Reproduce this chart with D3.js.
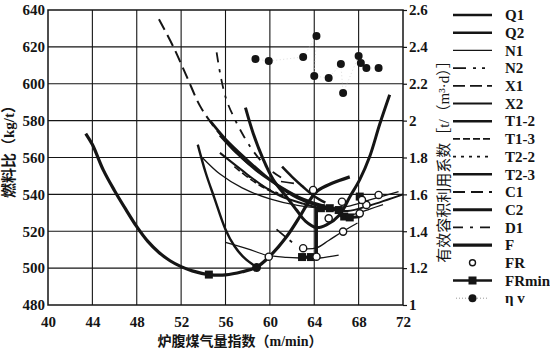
<!DOCTYPE html>
<html><head><meta charset="utf-8">
<script src="https://cdn.jsdelivr.net/npm/d3@7"></script>
<style>body{margin:0;background:#fff}</style>
</head><body><svg id="c" width="550" height="349"></svg>
<script>
// ---------- data ----------
const xTicks = [40,44,48,52,56,60,64,68,72];
const yLeftTicks = [480,500,520,540,560,580,600,620,640];
const yRightTicks = [1,1.2,1.4,1.6,1.8,2,2.2,2.4,2.6];
const legendNames = ["Q1","Q2","N1","N2","X1","X2","T1-2","T1-3","T2-2","T2-3","C1","C2","D1","F","FR","FRmin","η v"];

// curves: [炉腹煤气量指数, 燃料比]
const curveF   = [[43.4,573],[44,567],[45,553],[46,542],[47,532],[48,522.5],[49,514.5],[50,508.5],[51,504],[52,500.8],[53,498.5],[54.5,496.5],[56,496.3],[57.5,498],[58.8,500.5],[60,506.5],[61.5,517],[62.7,528],[63.5,536],[64.3,542],[65.6,546],[67.2,549.5]];
const curveQ2  = [[53.5,567],[54.2,552],[55,538],[56,521],[56.8,512],[57.7,505.5],[58.8,500.5]];
const curveC2  = [[57.8,587],[58.5,573],[59.4,559],[60.3,548],[61.5,538.6],[62.4,531.5],[63.2,525.5],[64.2,522],[65.1,523.5],[66.3,529],[67.2,538.6],[68.1,548],[69,560.5],[69.9,578],[70.8,594]];
const curveC1  = [[50,635],[51.3,620],[52.5,604],[53.7,588],[54.8,578],[55.8,570.5],[57,562.5],[58.5,554.5],[60,548]];
const curveD1  = [[55.2,617],[55.6,603],[56.1,591],[56.9,580],[57.7,571],[58.5,563.5],[59.3,557.5],[60.3,552],[61.3,548]];
const curveQ1  = [[54.6,580],[56,570],[57.9,559],[59.5,550.5],[61,543.5],[62.5,538],[64,534.5],[66,532]];
const curveT23 = [[55.5,572],[57,562.5],[59,552],[61,544],[63,537.5],[65,533.5]];
const curveN1  = [[53.9,560],[55.5,551],[57.5,543.5],[60,537.5],[62.5,534],[65,532.5],[67,533.5],[69,537],[71.6,541.5]];
const curveX2  = [[55.5,562.5],[57.5,553],[59.4,544.5],[61,539],[63,535],[65,532],[67,531],[69,534],[72,540]];
const curveT12 = [[61.1,555],[62,549.5],[63,544],[64,539],[65,535.5]];
const curveT13 = [[56.8,555],[58.3,548],[59.8,542.5],[61.5,538.5]];
const curveT22 = [[58,550],[59.5,544],[61,540]];
const curveX1  = [[60.6,521],[62,514]];
const curveN2  = [[61,547],[62.5,545.5],[63.5,543]];
const curveLow = [[56,514],[58,510.5],[59.7,507],[61.5,505.8],[62.7,505.5],[64.5,505.5],[66.2,507]];
const curveMid = [[63,510.5],[64.2,511],[65.3,515],[66.6,520],[67.9,524.5]];
const curveRt  = [[66.5,527.5],[67.8,529.5],[69,532],[70.2,534.5]];

const frPoints = [[59.9,506.2],[63,510.8],[64.2,506.2],[63.9,542.4],[65.3,527],[66.5,536],[66.6,519.8],[68.1,529.7],[68.7,534.3],[68.3,537],[69.8,539.7]];
const frMinSquares = [[54.5,496.5],[62.9,506],[63.7,506],[64.6,532.5],[65.4,532.5],[66.2,531.5],[66.7,528],[67.2,527.5],[68.1,538.8]];
const frMinPath = [[62.7,506],[64.2,506],[64.2,532.5],[66,532],[66.5,528],[67.2,527.5],[68.1,527.8]];
const minDots = [[58.8,500.3]];
// ηv : [x, 有效容积利用系数]
const etaV = [[58.7,2.334],[59.9,2.323],[63.0,2.345],[64.2,2.459],[64.0,2.242],[65.3,2.231],[66.4,2.307],[66.6,2.150],[68.0,2.350],[68.2,2.312],[68.7,2.285],[69.8,2.285]];

const series = [
  {name:"F",pts:curveF},{name:"Q2",pts:curveQ2},{name:"C2",pts:curveC2},{name:"C1",pts:curveC1},
  {name:"D1",pts:curveD1},{name:"Q1",pts:curveQ1},{name:"T2-3",pts:curveT23},{name:"N1",pts:curveN1},
  {name:"X2",pts:curveX2},{name:"T1-2",pts:curveT12},{name:"T1-3",pts:curveT13},{name:"T2-2",pts:curveT22},
  {name:"X1",pts:curveX1},{name:"N2",pts:curveN2},{name:"N1",pts:curveLow},{name:"N1",pts:curveMid},{name:"N1",pts:curveRt}
];

// ---------- styles ----------
const INK = "#151515";
const styleOf = {
  "Q1":{w:2.6,dash:null},"Q2":{w:2.4,dash:null},"N1":{w:1.3,dash:null},"N2":{w:1.6,dash:"13,7,3,6,3,7"},
  "X1":{w:1.8,dash:"12,5"},"X2":{w:2,dash:null},"T1-2":{w:2.6,dash:null},"T1-3":{w:1.6,dash:"7,3"},
  "T2-2":{w:1.6,dash:"3,5"},"T2-3":{w:2.6,dash:null},"C1":{w:2,dash:"12,6"},"C2":{w:3,dash:null},
  "D1":{w:1.8,dash:"10,7,3,7"},"F":{w:3.2,dash:null}
};

const svg = d3.select("#c");
const L = 48, R = 403, T = 10, B = 305;
const x = d3.scaleLinear().domain([40,72]).range([L,R]);
const yL = d3.scaleLinear().domain([480,640]).range([B,T]);
const yR = d3.scaleLinear().domain([1,2.6]).range([B,T]);
const serif = "'Liberation Serif','Times New Roman',serif";
const cjk = "'Liberation Serif','Noto Sans CJK SC',sans-serif";

// grid
svg.append("g").selectAll("line").data(xTicks.slice(1,-1)).join("line")
  .attr("x1",d=>x(d)).attr("x2",d=>x(d)).attr("y1",T).attr("y2",B)
  .attr("stroke",INK).attr("stroke-width",1.1);
svg.append("g").selectAll("line").data(yLeftTicks.slice(1,-1)).join("line")
  .attr("x1",L).attr("x2",R).attr("y1",d=>yL(d)).attr("y2",d=>yL(d))
  .attr("stroke",INK).attr("stroke-width",1.1);
svg.append("rect").attr("x",L).attr("y",T).attr("width",R-L).attr("height",B-T)
  .attr("fill","none").attr("stroke",INK).attr("stroke-width",1.5);

// axes
const ax = svg.append("g").attr("transform",`translate(${L},0)`)
  .call(d3.axisLeft(yL).tickValues(yLeftTicks).tickSize(0).tickPadding(3));
const bx = svg.append("g").attr("transform",`translate(0,${B})`)
  .call(d3.axisBottom(x).tickValues(xTicks).tickSize(0).tickPadding(11));
const rx = svg.append("g").attr("transform",`translate(${R},0)`)
  .call(d3.axisRight(yR).tickValues(yRightTicks).tickSize(4).tickPadding(2).tickFormat(d3.format("~g")));
[ax,bx,rx].forEach(g=>{
  g.select(".domain").remove();
  g.selectAll("text").attr("font-family",serif).attr("font-size",15).attr("fill",INK).attr("font-weight","bold");
  g.selectAll("line").attr("stroke",INK).attr("stroke-width",1.2);
});

// titles
svg.append("text").attr("x",240).attr("y",346).attr("text-anchor","middle")
  .attr("font-family",cjk).attr("font-size",14).attr("font-weight","bold").attr("fill",INK)
  .text("炉腹煤气量指数（m/min）");
svg.append("text").attr("transform","translate(14,148) rotate(-90)").attr("text-anchor","middle")
  .attr("font-family",cjk).attr("font-size",15).attr("font-weight","bold").attr("fill",INK)
  .text("燃料比（kg/t）");
svg.append("text").attr("transform","translate(449,158) rotate(-90)").attr("text-anchor","middle")
  .attr("font-family",cjk).attr("font-size",15).attr("fill",INK)
  .text("有效容积利用系数［t/（m³·d）］");

// curves
const line = d3.line().x(d=>x(d[0])).y(d=>yL(d[1])).curve(d3.curveCatmullRom.alpha(0.5));
const gC = svg.append("g");
series.forEach(s=>{
  const st = styleOf[s.name];
  gC.append("path").attr("d",line(s.pts)).attr("fill","none").attr("stroke",INK)
    .attr("stroke-width",st.w).attr("stroke-dasharray",st.dash).attr("stroke-linecap","butt");
});

// ηv dotted trace + dots
const lineR = d3.line().x(d=>x(d[0])).y(d=>yR(d[1]));
svg.append("path").attr("d",lineR(etaV)).attr("fill","none").attr("stroke","#cfcfcf")
  .attr("stroke-width",0.7).attr("stroke-dasharray","1,2.5");
svg.append("g").selectAll("circle").data(etaV).join("circle")
  .attr("cx",d=>x(d[0])).attr("cy",d=>yR(d[1])).attr("r",4).attr("fill",INK);

// FRmin trajectory + squares
svg.append("path").attr("d",d3.line().x(d=>x(d[0])).y(d=>yL(d[1]))(frMinPath))
  .attr("fill","none").attr("stroke",INK).attr("stroke-width",3);
svg.append("g").selectAll("rect").data(frMinSquares).join("rect")
  .attr("x",d=>x(d[0])-4).attr("y",d=>yL(d[1])-4).attr("width",8).attr("height",8).attr("fill",INK);
svg.append("g").selectAll("circle").data(minDots).join("circle")
  .attr("cx",d=>x(d[0])).attr("cy",d=>yL(d[1])).attr("r",4.5).attr("fill",INK);

// FR open circles
svg.append("g").selectAll("circle").data(frPoints).join("circle")
  .attr("cx",d=>x(d[0])).attr("cy",d=>yL(d[1])).attr("r",3.6)
  .attr("fill","#fff").attr("stroke",INK).attr("stroke-width",1.4);

// legend
const lg = svg.append("g");
const lx0 = 453, lx1 = 492, ltx = 505;
legendNames.forEach((n,i)=>{
  const yy = 15 + i*17.7;
  const row = lg.append("g");
  if (styleOf[n]) {
    row.append("line").attr("x1",lx0).attr("x2",lx1).attr("y1",yy).attr("y2",yy)
      .attr("stroke",INK).attr("stroke-width",styleOf[n].w).attr("stroke-dasharray",styleOf[n].dash);
  } else if (n==="FR") {
    row.append("circle").attr("cx",(lx0+lx1)/2).attr("cy",yy).attr("r",3)
      .attr("fill","#fff").attr("stroke",INK).attr("stroke-width",1.4);
  } else if (n==="FRmin") {
    row.append("line").attr("x1",lx0).attr("x2",lx1).attr("y1",yy).attr("y2",yy)
      .attr("stroke",INK).attr("stroke-width",2.4);
    row.append("rect").attr("x",(lx0+lx1)/2-4).attr("y",yy-4).attr("width",8).attr("height",8).attr("fill",INK);
  } else {
    row.append("line").attr("x1",lx0+3).attr("x2",lx1-3).attr("y1",yy).attr("y2",yy)
      .attr("stroke","#999").attr("stroke-width",1).attr("stroke-dasharray","1,2");
    row.append("circle").attr("cx",(lx0+lx1)/2).attr("cy",yy).attr("r",4).attr("fill",INK);
  }
  row.append("text").attr("x",ltx).attr("y",yy).attr("dy","0.35em")
    .attr("font-family",serif).attr("font-size",15).attr("font-weight","bold").attr("fill",INK).text(n);
});
</script>
</body></html>
